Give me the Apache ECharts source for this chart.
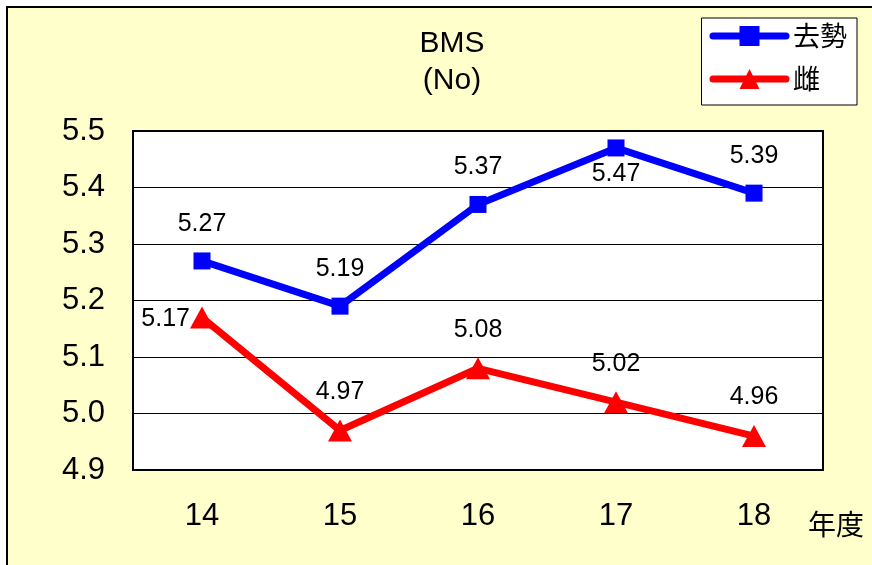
<!DOCTYPE html>
<html>
<head>
<meta charset="utf-8">
<script src="https://cdn.jsdelivr.net/npm/echarts@6/dist/echarts.min.js"></script>
<style>
  html, body { margin: 0; padding: 0; background: #fff; }
  #chart { width: 872px; height: 565px; }
</style>
</head>
<body>
<div id="chart"></div>
<script>
  // 年度 / series data
  var years = ['14', '15', '16', '17', '18'];
  var castrated = [5.27, 5.19, 5.37, 5.47, 5.39];   // 去勢
  var female = [5.17, 4.97, 5.08, 5.02, 4.96];      // 雌
  var yTicks = [4.9, 5.0, 5.1, 5.2, 5.3, 5.4, 5.5];

  var font = '"Liberation Sans", Arial, "Noto Sans CJK JP", sans-serif';
  var cjk = '"Noto Sans CJK JP", "Noto Sans CJK TC", sans-serif';

  var chart = echarts.init(document.getElementById('chart'));

  // 5.47 label sits under its point, 5.17 to the left
  var blueData = castrated.map(function (v, i) {
    var d = { value: v };
    if (i === 3) d.label = { position: 'bottom', distance: 5 };
    return d;
  });
  var redData = female.map(function (v, i) {
    var d = { value: v };
    if (i === 0) d.label = { position: 'left', distance: 0, offset: [0, 2] };
    return d;
  });

  chart.setOption({
    backgroundColor: '#fff',
    textStyle: { fontFamily: font },
    graphic: [{
      type: 'rect',
      z: -10,
      shape: { x: 7, y: 7, width: 900, height: 600 },
      style: { fill: '#FFFFCC', stroke: '#000', lineWidth: 2 }
    }],
    title: {
      text: 'BMS\n(No)',
      left: 447,
      textAlign: 'center',
      top: 20,
      textStyle: { fontSize: 30, fontWeight: 'normal', color: '#000', lineHeight: 37, fontFamily: font }
    },
    legend: {
      orient: 'vertical',
      right: 15,
      top: 18,
      padding: [4, 10, 12, 8],
      itemGap: 15,
      itemWidth: 73,
      itemHeight: 25,
      backgroundColor: '#fff',
      borderColor: '#000',
      borderWidth: 1,
      lineStyle: { width: 7, cap: 'round' },
      textStyle: { fontSize: 27, lineHeight: 28, color: '#000', fontFamily: cjk, padding: [0, 0, 0, 2] },
      data: ['去勢', '雌']
    },
    grid: {
      left: 133,
      right: 49,
      top: 131,
      bottom: 95,
      show: true,
      backgroundColor: '#fff',
      borderColor: '#000',
      borderWidth: 2
    },
    xAxis: {
      type: 'category',
      data: years,
      boundaryGap: true,
      name: '年度',
      nameLocation: 'end',
      nameGap: -15,
      nameTextStyle: { fontSize: 28, color: '#000', verticalAlign: 'top', padding: [40, 0, 0, 0], fontFamily: cjk },
      axisLine: { lineStyle: { color: '#000', width: 2 } },
      axisTick: { inside: true, length: 10, lineStyle: { color: '#333' } },
      axisLabel: { fontSize: 31, color: '#000', margin: 31 }
    },
    yAxis: {
      type: 'value',
      min: 4.9,
      max: 5.5,
      interval: 0.1,
      axisLine: { show: true, lineStyle: { color: '#000', width: 2 } },
      axisTick: { show: false },
      axisLabel: {
        fontSize: 31,
        color: '#000',
        margin: 28,
        formatter: function (v) { return v.toFixed(1); }
      },
      splitLine: { lineStyle: { color: '#000', width: 1 } }
    },
    series: [{
      name: '去勢',
      type: 'line',
      data: blueData,
      color: '#0000FF',
      symbol: 'rect',
      symbolSize: 17,
      lineStyle: { width: 7, color: '#0000FF' },
      itemStyle: { color: '#0000FF' },
      label: { show: true, position: 'top', distance: 16, fontSize: 25, color: '#000' }
    }, {
      name: '雌',
      type: 'line',
      data: redData,
      color: '#FF0000',
      symbol: 'triangle',
      symbolSize: [24, 22],
      lineStyle: { width: 7, color: '#FF0000' },
      itemStyle: { color: '#FF0000' },
      label: { show: true, position: 'top', distance: 15, fontSize: 25, color: '#000' }
    }]
  });
</script>
</body>
</html>
